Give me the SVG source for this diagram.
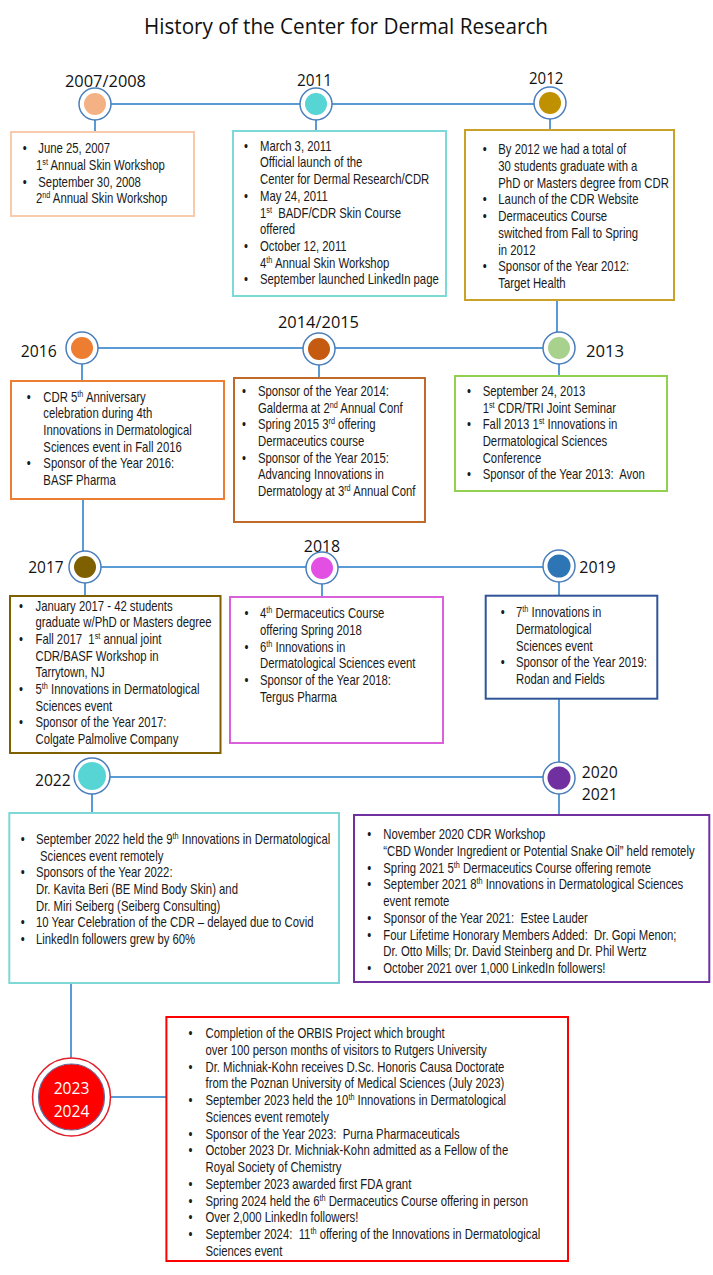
<svg xmlns="http://www.w3.org/2000/svg" width="713" height="1275" viewBox="0 0 713 1275">
<style>
.title{font-family:'Open Sans','Liberation Sans',sans-serif;font-size:22px;fill:#111}
.yr{font-family:'Open Sans','Liberation Sans',sans-serif;font-size:17px;fill:#111}
.yrw{font-family:'Open Sans','Liberation Sans',sans-serif;font-size:17px;fill:#fff}
.t{font-family:'Liberation Sans',Arial,sans-serif;font-size:14px;fill:#1a1a1a;white-space:pre}
.s{font-size:9px}
.ring{fill:#fff;stroke:#4A7EBB;stroke-width:1.5}
.box{fill:#fff;stroke-width:2}
.conn{stroke:#5B9BD5;stroke-width:2;fill:none}
</style>
<rect width="713" height="1275" fill="#fff"/>
<text class="title" x="144" y="34" textLength="404" lengthAdjust="spacingAndGlyphs">History of the Center for Dermal Research</text>

<g id="connectors" class="conn">
<path d="M95,104 H550"/>
<path d="M95,120 V132"/>
<path d="M316,120 V131"/>
<path d="M550,119 V130"/>
<path d="M557,300 V332"/>
<path d="M82,348 H559"/>
<path d="M82,364 V381"/>
<path d="M319,365 V378"/>
<path d="M559,364 V376"/>
<path d="M83,499 V551"/>
<path d="M85,567 H559"/>
<path d="M85,583 V596"/>
<path d="M322,584 V597"/>
<path d="M559,582 V596"/>
<path d="M559,699 V762"/>
<path d="M92,777 H559"/>
<path d="M92,794 V813"/>
<path d="M559,794 V815"/>
<path d="M71,983 V1058"/>
<path d="M110,1097 H166"/>
</g>

<g id="node-2007">
<text class="yr" x="65" y="87" textLength="81" lengthAdjust="spacingAndGlyphs">2007/2008</text>
<circle class="ring" cx="95" cy="104" r="16"/>
<circle cx="95" cy="104" r="11" fill="#F4B183"/>
<rect class="box" x="11" y="132" width="183" height="84" stroke="#F8CBAD"/>
<g transform="scale(0.81,1)">
<text class="t" x="28" y="153.3">•</text>
<text class="t" x="47.3" y="153.3">June 25, 2007</text>
<text class="t" x="44.4" y="170">1<tspan class="s" dy="-5">st</tspan><tspan dy="5"> Annual Skin Workshop</tspan></text>
<text class="t" x="28" y="187">•</text>
<text class="t" x="47.3" y="187">September 30, 2008</text>
<text class="t" x="44.4" y="203.5">2<tspan class="s" dy="-5">nd</tspan><tspan dy="5"> Annual Skin Workshop</tspan></text>
</g>
</g>

<g id="node-2011">
<text class="yr" x="297" y="85.5" textLength="35" lengthAdjust="spacingAndGlyphs">2011</text>
<circle class="ring" cx="316" cy="104" r="16"/>
<circle cx="316" cy="104" r="11" fill="#57D4D4"/>
<rect class="box" x="233" y="131" width="213" height="165" stroke="#7DD8D8"/>
<g transform="scale(0.81,1)">
<text class="t" x="301.2" y="150.7">•</text>
<text class="t" x="321" y="150.7">March 3, 2011</text>
<text class="t" x="321" y="167.4">Official launch of the</text>
<text class="t" x="321" y="184.1">Center for Dermal Research/CDR</text>
<text class="t" x="301.2" y="200.9">•</text>
<text class="t" x="321" y="200.9">May 24, 2011</text>
<text class="t" x="321" y="217.6">1<tspan class="s" dy="-5">st</tspan><tspan dy="5">  BADF/CDR Skin Course</tspan></text>
<text class="t" x="321" y="234.3">offered</text>
<text class="t" x="301.2" y="251">•</text>
<text class="t" x="321" y="251">October 12, 2011</text>
<text class="t" x="321" y="267.8">4<tspan class="s" dy="-5">th</tspan><tspan dy="5"> Annual Skin Workshop</tspan></text>
<text class="t" x="301.2" y="284.5">•</text>
<text class="t" x="321" y="284.5">September launched LinkedIn page</text>
</g>
</g>

<g id="node-2012">
<text class="yr" x="529" y="83.5" textLength="34.3" lengthAdjust="spacingAndGlyphs">2012</text>
<circle class="ring" cx="550" cy="103" r="16"/>
<circle cx="550" cy="103" r="11" fill="#BF9000"/>
<rect class="box" x="465" y="130" width="209" height="170" stroke="#C9A227"/>
<g transform="scale(0.81,1)">
<text class="t" x="595.9" y="154.3">•</text>
<text class="t" x="615.2" y="154.3">By 2012 we had a total of</text>
<text class="t" x="615.2" y="171">30 students graduate with a</text>
<text class="t" x="615.2" y="187.8">PhD or Masters degree from CDR</text>
<text class="t" x="595.9" y="204.5">•</text>
<text class="t" x="615.2" y="204.5">Launch of the CDR Website</text>
<text class="t" x="595.9" y="221.3">•</text>
<text class="t" x="615.2" y="221.3">Dermaceutics Course</text>
<text class="t" x="615.2" y="238">switched from Fall to Spring</text>
<text class="t" x="615.2" y="254.8">in 2012</text>
<text class="t" x="595.9" y="271.5">•</text>
<text class="t" x="615.2" y="271.5">Sponsor of the Year 2012:</text>
<text class="t" x="615.2" y="288.3">Target Health</text>
</g>
</g>

<g id="node-2016">
<text class="yr" x="20.7" y="357.3" textLength="36" lengthAdjust="spacingAndGlyphs">2016</text>
<circle class="ring" cx="82" cy="348" r="16"/>
<circle cx="82" cy="348" r="11" fill="#ED7D31"/>
<rect class="box" x="11" y="381" width="213" height="118" stroke="#ED7D31"/>
<g transform="scale(0.81,1)">
<text class="t" x="33" y="401.7">•</text>
<text class="t" x="53.5" y="401.7">CDR 5<tspan class="s" dy="-5">th</tspan><tspan dy="5"> Anniversary</tspan></text>
<text class="t" x="53.5" y="418.3">celebration during 4th</text>
<text class="t" x="53.5" y="435">Innovations in Dermatological</text>
<text class="t" x="53.5" y="451.7">Sciences event in Fall 2016</text>
<text class="t" x="33" y="468.3">•</text>
<text class="t" x="53.5" y="468.3">Sponsor of the Year 2016:</text>
<text class="t" x="53.5" y="485">BASF Pharma</text>
</g>
</g>

<g id="node-2014-2015">
<text class="yr" x="278" y="328" textLength="81" lengthAdjust="spacingAndGlyphs">2014/2015</text>
<circle class="ring" cx="319" cy="349" r="16"/>
<circle cx="319" cy="349" r="11" fill="#C55A11"/>
<rect class="box" x="234" y="378" width="191" height="144" stroke="#C0692C"/>
<g transform="scale(0.81,1)">
<text class="t" x="298.8" y="396">•</text>
<text class="t" x="318.5" y="396">Sponsor of the Year 2014:</text>
<text class="t" x="318.5" y="412.7">Galderma at 2<tspan class="s" dy="-5">nd</tspan><tspan dy="5"> Annual Conf</tspan></text>
<text class="t" x="298.8" y="429.3">•</text>
<text class="t" x="318.5" y="429.3">Spring 2015 3<tspan class="s" dy="-5">rd</tspan><tspan dy="5"> offering</tspan></text>
<text class="t" x="318.5" y="446">Dermaceutics course</text>
<text class="t" x="298.8" y="462.7">•</text>
<text class="t" x="318.5" y="462.7">Sponsor of the Year 2015:</text>
<text class="t" x="318.5" y="479.3">Advancing Innovations in</text>
<text class="t" x="318.5" y="496">Dermatology at 3<tspan class="s" dy="-5">rd</tspan><tspan dy="5"> Annual Conf</tspan></text>
</g>
</g>

<g id="node-2013">
<text class="yr" x="586" y="357.3" textLength="38" lengthAdjust="spacingAndGlyphs">2013</text>
<circle class="ring" cx="559" cy="348" r="16"/>
<circle cx="559" cy="348" r="11" fill="#A9D18E"/>
<rect class="box" x="455" y="376" width="212" height="115" stroke="#92D050"/>
<g transform="scale(0.81,1)">
<text class="t" x="576.5" y="396">•</text>
<text class="t" x="595.9" y="396">September 24, 2013</text>
<text class="t" x="595.9" y="412.7">1<tspan class="s" dy="-5">st</tspan><tspan dy="5"> CDR/TRI Joint Seminar</tspan></text>
<text class="t" x="576.5" y="429.3">•</text>
<text class="t" x="595.9" y="429.3">Fall 2013 1<tspan class="s" dy="-5">st</tspan><tspan dy="5"> Innovations in</tspan></text>
<text class="t" x="595.9" y="446">Dermatological Sciences</text>
<text class="t" x="595.9" y="462.7">Conference</text>
<text class="t" x="576.5" y="479.3">•</text>
<text class="t" x="595.9" y="479.3">Sponsor of the Year 2013:  Avon</text>
</g>
</g>

<g id="node-2017">
<text class="yr" x="28.2" y="573" textLength="35.4" lengthAdjust="spacingAndGlyphs">2017</text>
<circle class="ring" cx="85" cy="567" r="16"/>
<circle cx="85" cy="567" r="11" fill="#7F6000"/>
<rect class="box" x="10" y="596" width="210.5" height="157" stroke="#7F6000"/>
<g transform="scale(0.81,1)">
<text class="t" x="23.5" y="610.7">•</text>
<text class="t" x="43.8" y="610.7">January 2017 - 42 students</text>
<text class="t" x="43.8" y="627.3">graduate w/PhD or Masters degree</text>
<text class="t" x="23.5" y="644">•</text>
<text class="t" x="43.8" y="644">Fall 2017  1<tspan class="s" dy="-5">st</tspan><tspan dy="5"> annual joint</tspan></text>
<text class="t" x="43.8" y="660.7">CDR/BASF Workshop in</text>
<text class="t" x="43.8" y="677.3">Tarrytown, NJ</text>
<text class="t" x="23.5" y="694">•</text>
<text class="t" x="43.8" y="694">5<tspan class="s" dy="-5">th</tspan><tspan dy="5"> Innovations in Dermatological</tspan></text>
<text class="t" x="43.8" y="710.7">Sciences event</text>
<text class="t" x="23.5" y="727.3">•</text>
<text class="t" x="43.8" y="727.3">Sponsor of the Year 2017:</text>
<text class="t" x="43.8" y="744">Colgate Palmolive Company</text>
</g>
</g>

<g id="node-2018">
<text class="yr" x="303.8" y="551.7" textLength="36.4" lengthAdjust="spacingAndGlyphs">2018</text>
<circle class="ring" cx="322" cy="568" r="16"/>
<circle cx="322" cy="568" r="11" fill="#E24FE2"/>
<rect class="box" x="230" y="597" width="213" height="146" stroke="#DA5FDA"/>
<g transform="scale(0.81,1)">
<text class="t" x="301.9" y="618.3">•</text>
<text class="t" x="321" y="618.3">4<tspan class="s" dy="-5">th</tspan><tspan dy="5"> Dermaceutics Course</tspan></text>
<text class="t" x="321" y="635">offering Spring 2018</text>
<text class="t" x="301.9" y="651.7">•</text>
<text class="t" x="321" y="651.7">6<tspan class="s" dy="-5">th</tspan><tspan dy="5"> Innovations in</tspan></text>
<text class="t" x="321" y="668.3">Dermatological Sciences event</text>
<text class="t" x="301.9" y="685">•</text>
<text class="t" x="321" y="685">Sponsor of the Year 2018:</text>
<text class="t" x="321" y="701.7">Tergus Pharma</text>
</g>
</g>

<g id="node-2019">
<text class="yr" x="579.3" y="572.7" textLength="36.4" lengthAdjust="spacingAndGlyphs">2019</text>
<circle class="ring" cx="559" cy="566" r="16"/>
<circle cx="559" cy="566" r="11.5" fill="#2E75B6"/>
<rect class="box" x="485.7" y="595.7" width="171.6" height="103" stroke="#2F5597"/>
<g transform="scale(0.81,1)">
<text class="t" x="618.1" y="617.3">•</text>
<text class="t" x="637" y="617.3">7<tspan class="s" dy="-5">th</tspan><tspan dy="5"> Innovations in</tspan></text>
<text class="t" x="637" y="634">Dermatological</text>
<text class="t" x="637" y="650.7">Sciences event</text>
<text class="t" x="618.1" y="667.3">•</text>
<text class="t" x="637" y="667.3">Sponsor of the Year 2019:</text>
<text class="t" x="637" y="684">Rodan and Fields</text>
</g>
</g>

<g id="node-2022">
<text class="yr" x="35" y="786" textLength="35.7" lengthAdjust="spacingAndGlyphs">2022</text>
<circle class="ring" cx="92" cy="776" r="18"/>
<circle cx="92" cy="776" r="14" fill="#57D4D4"/>
<rect class="box" x="9.3" y="813" width="329.7" height="170" stroke="#7FD8D8"/>
<g transform="scale(0.81,1)">
<text class="t" x="25.6" y="844">•</text>
<text class="t" x="44.4" y="844">September 2022 held the 9<tspan class="s" dy="-5">th</tspan><tspan dy="5"> Innovations in Dermatological</tspan></text>
<text class="t" x="49.4" y="860.7">Sciences event remotely</text>
<text class="t" x="25.6" y="877.3">•</text>
<text class="t" x="44.4" y="877.3">Sponsors of the Year 2022:</text>
<text class="t" x="44.4" y="894">Dr. Kavita Beri (BE Mind Body Skin) and</text>
<text class="t" x="44.4" y="910.7">Dr. Miri Seiberg (Seiberg Consulting)</text>
<text class="t" x="25.6" y="927.3">•</text>
<text class="t" x="44.4" y="927.3">10 Year Celebration of the CDR – delayed due to Covid</text>
<text class="t" x="25.6" y="944">•</text>
<text class="t" x="44.4" y="944">LinkedIn followers grew by 60%</text>
</g>
</g>

<g id="node-2020-2021">
<text class="yr" x="581.7" y="778.3" textLength="36" lengthAdjust="spacingAndGlyphs">2020</text>
<text class="yr" x="581.7" y="800" textLength="36" lengthAdjust="spacingAndGlyphs">2021</text>
<circle class="ring" cx="559" cy="778" r="16"/>
<circle cx="559" cy="778" r="11.5" fill="#7030A0"/>
<rect class="box" x="354" y="815" width="355.3" height="167" stroke="#7030A0"/>
<g transform="scale(0.81,1)">
<text class="t" x="453.5" y="839.3">•</text>
<text class="t" x="473.2" y="839.3">November 2020 CDR Workshop</text>
<text class="t" x="473.2" y="856">“CBD Wonder Ingredient or Potential Snake Oil” held remotely</text>
<text class="t" x="453.5" y="872.8">•</text>
<text class="t" x="473.2" y="872.8">Spring 2021 5<tspan class="s" dy="-5">th</tspan><tspan dy="5"> Dermaceutics Course offering remote</tspan></text>
<text class="t" x="453.5" y="889.5">•</text>
<text class="t" x="473.2" y="889.5">September 2021 8<tspan class="s" dy="-5">th</tspan><tspan dy="5"> Innovations in Dermatological Sciences</tspan></text>
<text class="t" x="473.2" y="906.3">event remote</text>
<text class="t" x="453.5" y="923">•</text>
<text class="t" x="473.2" y="923">Sponsor of the Year 2021:  Estee Lauder</text>
<text class="t" x="453.5" y="939.8">•</text>
<text class="t" x="473.2" y="939.8">Four Lifetime Honorary Members Added:  Dr. Gopi Menon;</text>
<text class="t" x="473.2" y="956.5">Dr. Otto Mills; Dr. David Steinberg and Dr. Phil Wertz</text>
<text class="t" x="453.5" y="973.3">•</text>
<text class="t" x="473.2" y="973.3">October 2021 over 1,000 LinkedIn followers!</text>
</g>
</g>

<g id="node-2023-2024">
<circle cx="71.5" cy="1097" r="39" fill="#fff" stroke="#E0202A" stroke-width="1.5"/>
<circle cx="71.5" cy="1097" r="33" fill="#FF0000" stroke="#6A6A9A" stroke-width="1.2"/>
<text class="yrw" x="71.5" y="1094.3" text-anchor="middle" textLength="35.7" lengthAdjust="spacingAndGlyphs">2023</text>
<text class="yrw" x="71.5" y="1116.7" text-anchor="middle" textLength="35.7" lengthAdjust="spacingAndGlyphs">2024</text>
<rect class="box" x="166.4" y="1017" width="401.6" height="244" stroke="#FF0000"/>
<g transform="scale(0.81,1)">
<text class="t" x="232.8" y="1038.3">•</text>
<text class="t" x="253.7" y="1038.3">Completion of the ORBIS Project which brought</text>
<text class="t" x="253.7" y="1055">over 100 person months of visitors to Rutgers University</text>
<text class="t" x="232.8" y="1071.8">•</text>
<text class="t" x="253.7" y="1071.8">Dr. Michniak-Kohn receives D.Sc. Honoris Causa Doctorate</text>
<text class="t" x="253.7" y="1088.5">from the Poznan University of Medical Sciences (July 2023)</text>
<text class="t" x="232.8" y="1105.3">•</text>
<text class="t" x="253.7" y="1105.3">September 2023 held the 10<tspan class="s" dy="-5">th</tspan><tspan dy="5"> Innovations in Dermatological</tspan></text>
<text class="t" x="253.7" y="1122">Sciences event remotely</text>
<text class="t" x="232.8" y="1138.8">•</text>
<text class="t" x="253.7" y="1138.8">Sponsor of the Year 2023:  Purna Pharmaceuticals</text>
<text class="t" x="232.8" y="1155.5">•</text>
<text class="t" x="253.7" y="1155.5">October 2023 Dr. Michniak-Kohn admitted as a Fellow of the</text>
<text class="t" x="253.7" y="1172.3">Royal Society of Chemistry</text>
<text class="t" x="232.8" y="1189">•</text>
<text class="t" x="253.7" y="1189">September 2023 awarded first FDA grant</text>
<text class="t" x="232.8" y="1205.8">•</text>
<text class="t" x="253.7" y="1205.8">Spring 2024 held the 6<tspan class="s" dy="-5">th</tspan><tspan dy="5"> Dermaceutics Course offering in person</tspan></text>
<text class="t" x="232.8" y="1222.5">•</text>
<text class="t" x="253.7" y="1222.5">Over 2,000 LinkedIn followers!</text>
<text class="t" x="232.8" y="1239.3">•</text>
<text class="t" x="253.7" y="1239.3">September 2024:  11<tspan class="s" dy="-5">th</tspan><tspan dy="5"> offering of the Innovations in Dermatological</tspan></text>
<text class="t" x="253.7" y="1256">Sciences event</text>
</g>
</g>
</svg>
